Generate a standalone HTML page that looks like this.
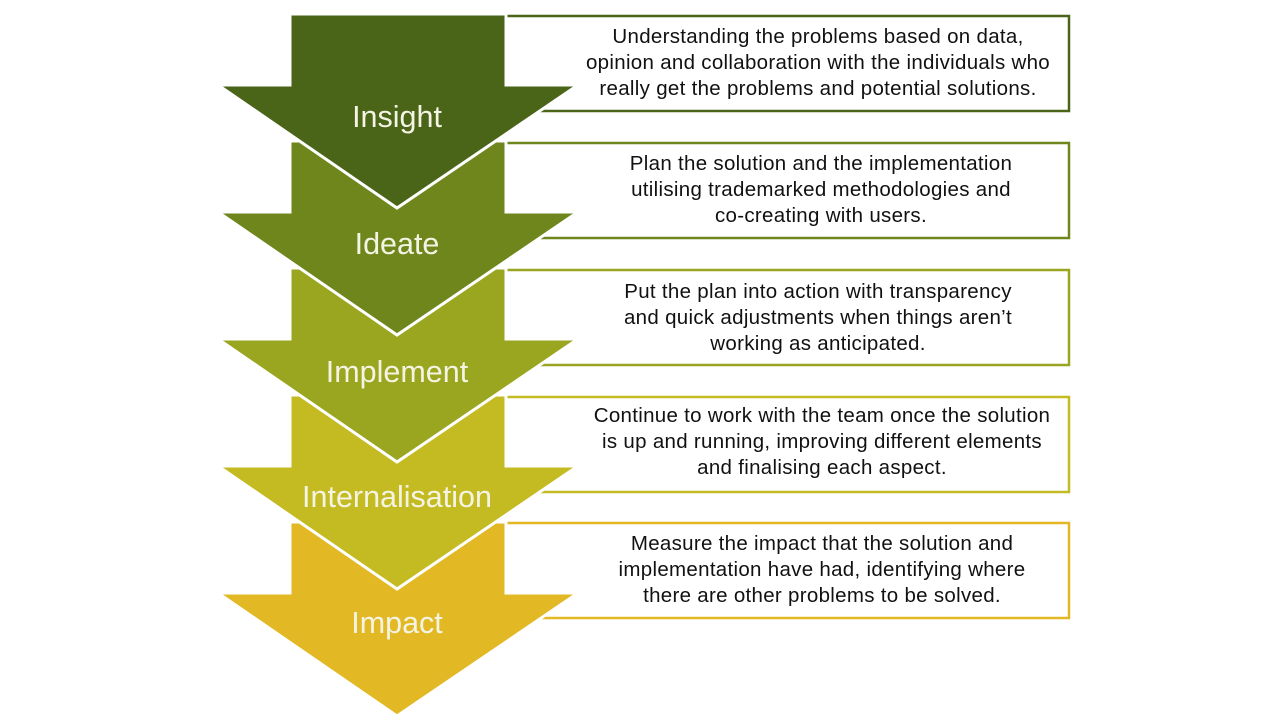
<!DOCTYPE html>
<html><head><meta charset="utf-8"><style>
body{margin:0;background:#fff;width:1280px;height:720px;overflow:hidden}
svg{display:block}
.t{font-family:"Liberation Sans",sans-serif;font-size:20.5px;fill:#111;text-anchor:middle;letter-spacing:0.3px}
.l{font-family:"Liberation Sans",sans-serif;font-size:30.5px;fill:#f4f4e4;text-anchor:middle}
</style></head><body>
<svg width="1280" height="720" viewBox="0 0 1280 720">
<g fill="#fff" stroke-width="2.5">
<rect x="400" y="16" width="669" height="95" stroke="#4a6418"/>
<rect x="400" y="143" width="669" height="95" stroke="#6e861c"/>
<rect x="400" y="270" width="669" height="95" stroke="#9aa520"/>
<rect x="400" y="397" width="669" height="95" stroke="#c4bb22"/>
<rect x="400" y="523" width="669" height="95" stroke="#e3b825"/>
</g>
<g stroke="#fff" stroke-width="3" stroke-linejoin="miter">
<polygon points="290,522 506,522 506,593 578,593 397,716 218,593 290,593" fill="#e3b825"/>
<polygon points="290,395 506,395 506,466 578,466 397,589 218,466 290,466" fill="#c4bb22"/>
<polygon points="290,268 506,268 506,339 578,339 397,462 218,339 290,339" fill="#9aa520"/>
<polygon points="290,141 506,141 506,212 578,212 397,335 218,212 290,212" fill="#6e861c"/>
<polygon points="290,14 506,14 506,85 578,85 397,208 218,85 290,85" fill="#4a6418"/>
</g>
<text class="l" x="397" y="127">Insight</text>
<text class="l" x="397" y="254">Ideate</text>
<text class="l" x="397" y="382">Implement</text>
<text class="l" x="397" y="507">Internalisation</text>
<text class="l" x="397" y="633">Impact</text>
<text class="t" x="818" y="43">Understanding the problems based on data,</text>
<text class="t" x="818" y="69">opinion and collaboration with the individuals who</text>
<text class="t" x="818" y="95">really get the problems and potential solutions.</text>
<text class="t" x="821" y="170">Plan the solution and the implementation</text>
<text class="t" x="821" y="196">utilising trademarked methodologies and</text>
<text class="t" x="821" y="222">co-creating with users.</text>
<text class="t" x="818" y="298">Put the plan into action with transparency</text>
<text class="t" x="818" y="324">and quick adjustments when things aren’t</text>
<text class="t" x="818" y="350">working as anticipated.</text>
<text class="t" x="822" y="422">Continue to work with the team once the solution</text>
<text class="t" x="822" y="448">is up and running, improving different elements</text>
<text class="t" x="822" y="474">and finalising each aspect.</text>
<text class="t" x="822" y="550">Measure the impact that the solution and</text>
<text class="t" x="822" y="576">implementation have had, identifying where</text>
<text class="t" x="822" y="602">there are other problems to be solved.</text>
</svg>
</body></html>
